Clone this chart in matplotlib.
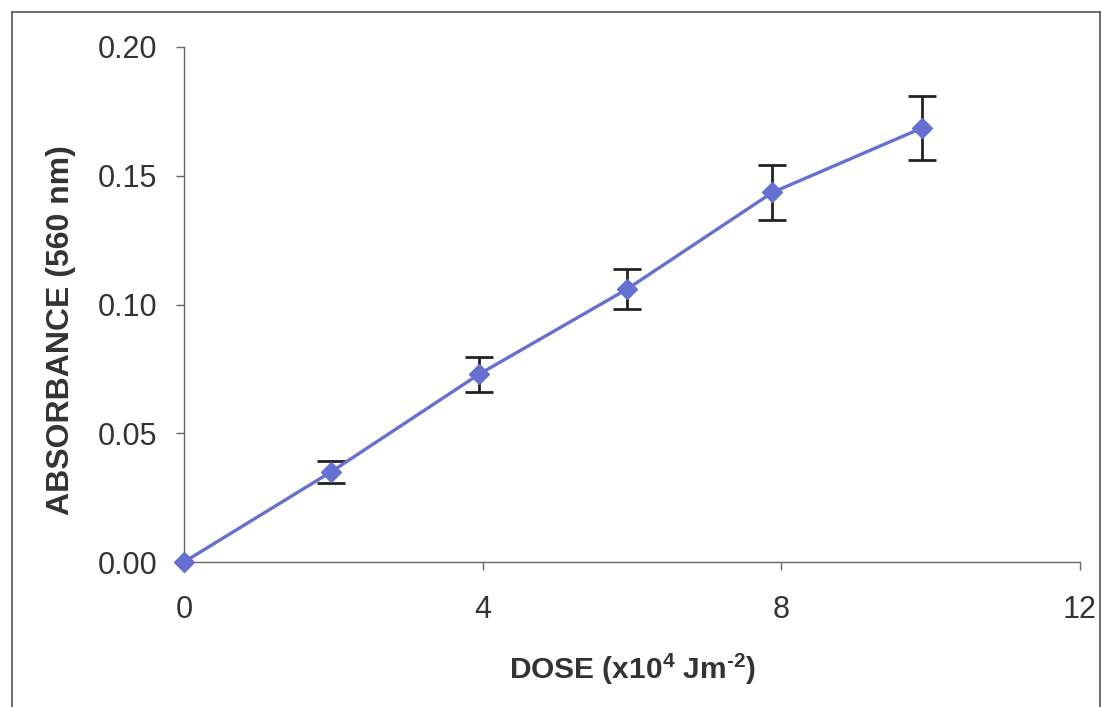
import matplotlib
matplotlib.use("Agg")
import matplotlib.pyplot as plt
from matplotlib.lines import Line2D

plt.rcParams['font.family'] = ['Liberation Sans', 'DejaVu Sans']
plt.rcParams['mathtext.fontset'] = 'custom'
plt.rcParams['mathtext.rm'] = 'Liberation Sans:bold'
plt.rcParams['mathtext.default'] = 'rm'

# values
dose = [0, 1.97, 3.95, 5.93, 7.88, 9.88]
absorbance = [0.0, 0.035, 0.0729, 0.1059, 0.1435, 0.1685]
err = [0, 0.0042, 0.0068, 0.0078, 0.0105, 0.0123]
xticks = [0, 4, 8, 12]
yticks = [0.00, 0.05, 0.10, 0.15, 0.20]

fig = plt.figure(figsize=(11.03, 7.07), dpi=100)
ax = fig.add_axes([184 / 1103, 1 - 562 / 707, (1080 - 184) / 1103, (562 - 47) / 707])

line_col = '#6670d0'
ax.errorbar(dose[1:], absorbance[1:], yerr=err[1:], fmt='none', ecolor='#222222',
            elinewidth=2, capsize=10, capthick=2, zorder=2)
ax.plot(dose, absorbance, color=line_col, lw=2.4, marker='D', markersize=10,
        markerfacecolor=line_col, markeredgecolor=line_col, zorder=3, clip_on=False)

ax.set_xlim(0, 12)
ax.set_ylim(0, 0.20)
ax.set_xticks(xticks)
ax.set_xticklabels([str(t) for t in xticks])
ax.set_yticks(yticks)
ax.set_yticklabels(['%.2f' % t for t in yticks])

for s in ['top', 'right']:
    ax.spines[s].set_visible(False)
for s in ['left', 'bottom']:
    ax.spines[s].set_color('#666666')
    ax.spines[s].set_linewidth(1)

ax.tick_params(axis='both', direction='out', length=6, width=1, color='#666666',
               labelsize=22, labelcolor='#333333')
ax.tick_params(axis='x', pad=18)
ax.tick_params(axis='y', pad=13)

ax.set_xlabel('DOSE (x10$^{4}$ Jm$^{\u2010 2}$)', fontsize=21.5, fontweight='bold',
              color='#333333', labelpad=19)
ax.set_ylabel('ABSORBANCE (560 nm)', fontsize=23, fontweight='bold',
              color='#333333')
ax.yaxis.set_label_coords(-0.120, 0.45)

# outer frame around the chart
fx0, fx1, fy1 = 12 / 1103, 1100 / 1103, 1 - 12 / 707
for xs, ys in [([fx0, fx0], [0, fy1]), ([fx0, fx1], [fy1, fy1]), ([fx1, fx1], [0, fy1])]:
    fig.add_artist(Line2D(xs, ys, transform=fig.transFigure, color='#555555', lw=1.2))

fig.savefig('out.png', dpi=100)
